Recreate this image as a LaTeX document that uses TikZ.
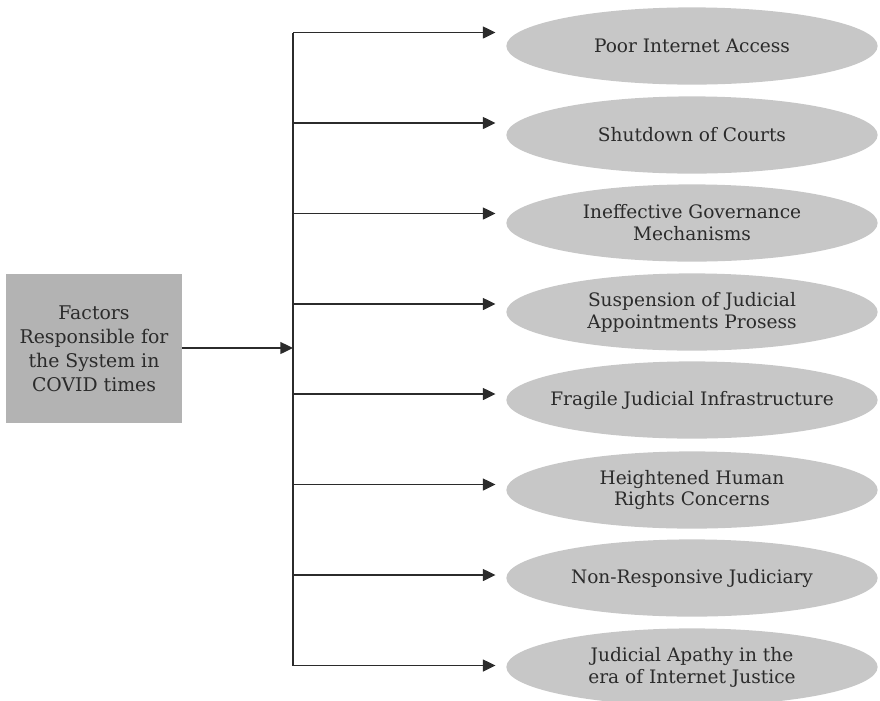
\documentclass[tikz,border=0pt]{standalone}
\usepackage{fontspec}
\setmainfont{DejaVu Serif}
\usetikzlibrary{arrows.meta,shapes.geometric,positioning}
\definecolor{cBox}{HTML}{B3B3B3}
\definecolor{cOval}{HTML}{C7C7C7}
\definecolor{cInk}{HTML}{2B2B2B}
\tikzset{
  factor/.style={rectangle,fill=cBox,minimum width=4.4cm,minimum height=3.73cm,inner sep=2pt,align=center,text=cInk,font=\fontsize{13.4}{17}\selectfont},
  oval/.style={ellipse,fill=cOval,minimum width=9.28cm,minimum height=1.93cm,inner xsep=-0.6cm,inner ysep=0pt,align=center,text=cInk,font=\fontsize{13.2}{15.6}\selectfont},
  spine/.style={line width=1pt,cInk},
  arr/.style={-{Triangle[length=9pt,width=8.5pt]},line width=1pt,cInk},
}

\begin{document}
\begin{tikzpicture}[x=0.025cm,y=-0.025cm]
  \useasboundingbox (0,0) rectangle (880,700);
  % source box
  \node[factor] (src) at (94,348.5) {Factors\\Responsible for\\the System in\\COVID times};
  % factors
  \node[oval] (o1) at (692,46) {Poor Internet Access};
  \node[oval] (o2) at (692,135) {Shutdown of Courts};
  \node[oval] (o3) at (692,223) {Ineffective Governance\\Mechanisms};
  \node[oval] (o4) at (692,312) {Suspension of Judicial\\Appointments Prosess};
  \node[oval] (o5) at (692,400) {Fragile Judicial Infrastructure};
  \node[oval] (o6) at (692,490) {Heightened Human\\Rights Concerns};
  \node[oval] (o7) at (692,578) {Non-Responsive Judiciary};
  \node[oval] (o8) at (692,667) {Judicial Apathy in the\\era of Internet Justice};
  % branch points on the spine
  \coordinate (j1) at (293,32.5);
  \coordinate (j2) at (293,123);
  \coordinate (j3) at (293,213.5);
  \coordinate (j4) at (293,304);
  \coordinate (j5) at (293,394);
  \coordinate (j6) at (293,484.5);
  \coordinate (j7) at (293,575);
  \coordinate (j8) at (293,665.5);
  \draw[spine] (j1)--(j8);
  \draw[arr] (src.east|-0,348)--(j1|-0,348);
  \draw[arr,shorten >=7.5pt] (j1)--(j1-|o1.west);
  \draw[arr,shorten >=7.5pt] (j2)--(j2-|o2.west);
  \draw[arr,shorten >=7.5pt] (j3)--(j3-|o3.west);
  \draw[arr,shorten >=7.5pt] (j4)--(j4-|o4.west);
  \draw[arr,shorten >=7.5pt] (j5)--(j5-|o5.west);
  \draw[arr,shorten >=7.5pt] (j6)--(j6-|o6.west);
  \draw[arr,shorten >=7.5pt] (j7)--(j7-|o7.west);
  \draw[arr,shorten >=7.5pt] (j8)--(j8-|o8.west);
\end{tikzpicture}
\end{document}
